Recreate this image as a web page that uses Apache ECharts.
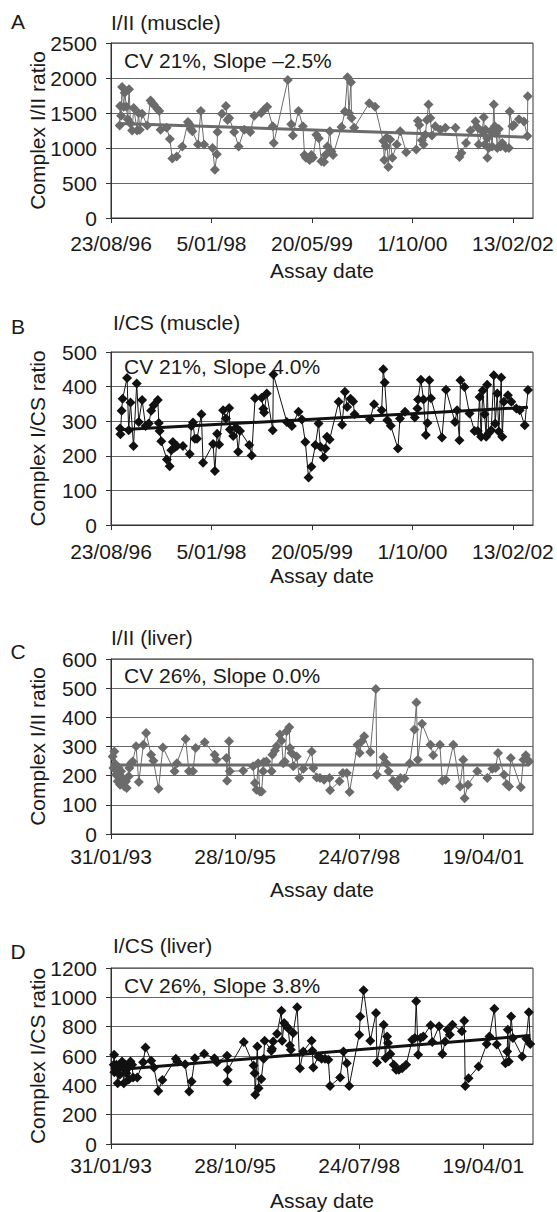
<!DOCTYPE html>
<html>
  <head>
    <meta charset="utf-8">
    <title>Complex ratios by assay date</title>
    <style media="screen">
    html, body {margin:0; padding:0; background:#fff}
    #chart {width:557px; height:1212px}
    </style>
    <script src="https://cdn.jsdelivr.net/npm/echarts/dist/echarts.min.js" charset="utf-8"></script>
    <script>
    // dates are spreadsheet day serials (days since 30/12/1899)
    const muscleTicks=[35300, 35800, 36300, 36800, 37300];
    const liverTicks=[34000, 35000, 36000, 37000];
    const axisEnd=37400;

    // A: I/II (muscle)
    const muscleIIDates=[35343,35345,35350,35355,35363,35368,35377,35383,35390,35397,35405,35413,35430,35437,35443,35455,35480,35497,35505,35513,35530,35540,35547,35577,35593,35605,35627,35655,35683,35690,35697,35705,35733,35747,35763,35805,35817,35827,35830,35852,35872,35880,35888,35913,35935,35963,35993,36013,36047,36063,36077,36105,36110,36180,36197,36205,36233,36255,36263,36270,36288,36297,36305,36322,36334,36347,36360,36367,36377,36389,36397,36405,36447,36464,36477,36484,36494,36497,36510,36585,36614,36655,36660,36667,36672,36680,36689,36700,36722,36739,36769,36819,36827,36834,36847,36855,36864,36872,36880,36889,36897,36914,36939,36964,37014,37034,37044,37067,37089,37114,37122,37130,37147,37155,37160,37164,37172,37173,37180,37189,37197,37205,37210,37217,37222,37230,37239,37247,37264,37280,37284,37297,37305,37330,37355,37372,37374];
    const muscleIIValues=[1320,1600,1460,1870,1590,1790,1590,1410,1840,1350,1250,1570,1250,1500,1260,1490,1320,1680,1640,1620,1560,1530,1260,1290,1130,850,880,1020,1370,1340,1270,1240,1050,1530,1050,1000,690,910,1230,1490,1600,1400,1430,1230,1020,1260,1230,1460,1500,1550,1590,1310,1070,1970,1340,1180,1530,1310,900,860,830,900,860,1190,1140,810,800,900,1020,1240,950,900,1300,1520,2010,1500,1940,1430,1290,1640,1590,1100,830,1030,1150,730,1120,860,1050,1240,940,980,1390,1330,1110,1050,1190,1400,1620,1430,1180,1310,1260,1290,1290,870,930,1070,1250,1380,1300,1050,1240,1440,1050,1260,1140,860,1000,1240,1020,1620,1310,1210,1000,1270,1020,1070,1000,1000,1520,1310,1330,1410,1380,1170,1740];
    const muscleIITrend=[[35343, 1350], [37374, 1155]];

    // B: I/CS (muscle)
    const muscleCSDates=[35345,35347,35353,35358,35380,35388,35397,35412,35428,35438,35455,35472,35488,35500,35512,35533,35538,35542,35550,35578,35592,35600,35608,35617,35628,35658,35692,35700,35708,35717,35728,35750,35758,35808,35817,35828,35838,35858,35872,35888,35892,35908,35922,35933,35942,35988,36000,36017,36050,36058,36062,36075,36105,36108,36175,36200,36233,36250,36267,36283,36297,36317,36333,36342,36359,36367,36375,36388,36433,36450,36464,36475,36492,36505,36512,36589,36609,36647,36655,36662,36675,36692,36728,36738,36763,36812,36825,36828,36842,36855,36867,36875,36884,36892,36947,36967,37012,37022,37034,37039,37059,37084,37109,37125,37134,37142,37150,37159,37167,37172,37179,37192,37205,37212,37222,37230,37242,37247,37255,37275,37292,37317,37334,37359,37375];
    const muscleCSValues=[279,262,330,365,425,274,354,228,409,298,361,286,293,330,346,361,295,272,242,189,170,216,240,224,228,228,205,286,296,249,249,320,180,234,156,264,233,332,308,338,276,257,282,212,272,231,201,366,368,336,325,380,274,435,298,286,327,305,240,137,168,231,293,226,195,221,255,247,356,290,385,341,365,357,320,305,349,332,450,412,303,287,221,308,327,311,337,363,420,363,260,295,418,366,253,391,298,332,245,418,399,322,272,272,370,255,389,320,255,405,265,274,433,293,380,270,426,255,356,375,356,337,332,288,390];
    const muscleCSTrend=[[35345, 275], [37375, 340]];

    // C: I/II (liver)
    const liverIIDates=[34013,34019,34027,34035,34040,34054,34062,34073,34081,34094,34108,34121,34127,34143,34148,34162,34175,34202,34224,34261,34283,34323,34342,34383,34418,34512,34531,34601,34628,34660,34682,34755,34835,34849,34930,34935,34951,34957,35065,35145,35159,35172,35186,35199,35213,35226,35232,35253,35294,35300,35321,35334,35361,35374,35388,35400,35415,35436,35442,35455,35469,35496,35517,35550,35617,35630,35657,35684,35717,35760,35765,35841,35868,35900,35922,35986,36003,36021,36040,36089,36134,36142,36196,36218,36237,36272,36291,36310,36332,36364,36407,36445,36461,36472,36506,36574,36596,36650,36669,36696,36758,36812,36838,36849,36876,36951,37032,37072,37099,37118,37167,37188,37207,37221,37302,37323,37342,37356,37369];
    const liverIIValues=[266,226,283,240,203,181,226,169,215,192,163,181,158,198,226,243,249,301,178,306,346,272,251,155,297,215,243,326,215,215,295,315,272,255,261,183,318,215,217,232,175,152,243,146,146,215,247,249,215,272,286,301,341,320,243,249,352,366,295,278,232,266,192,224,283,226,194,192,186,192,150,181,209,209,144,306,278,318,335,281,497,203,263,243,215,183,175,163,192,190,243,358,451,255,378,306,270,306,183,186,306,163,255,123,169,215,192,224,226,278,203,171,163,261,160,255,270,255,249];
    const liverIITrend=[[34013, 237], [37369, 237]];

    // D: I/CS (liver)
    const liverCSDates=[34022,34025,34027,34035,34043,34054,34062,34070,34089,34103,34110,34116,34124,34135,34143,34157,34170,34178,34211,34259,34278,34324,34346,34381,34414,34522,34535,34597,34630,34649,34676,34751,34833,34854,34935,34938,34941,35070,35149,35157,35162,35179,35189,35211,35230,35238,35292,35297,35306,35338,35373,35379,35395,35414,35427,35441,35449,35468,35500,35522,35549,35616,35622,35630,35670,35697,35724,35751,35765,35846,35873,35900,35919,36000,36008,36035,36089,36135,36143,36197,36211,36224,36232,36251,36278,36297,36319,36346,36378,36427,36448,36459,36475,36494,36516,36575,36589,36643,36670,36692,36711,36730,36751,36827,36846,36854,36881,36962,37027,37049,37089,37108,37178,37192,37197,37205,37224,37238,37313,37346,37367,37378];
    const liverCSValues=[540,608,490,517,540,415,530,472,563,415,506,540,483,517,440,563,540,453,453,558,658,567,522,362,437,581,563,544,358,426,585,615,585,558,601,426,506,695,535,483,335,665,380,444,581,704,636,649,699,752,909,704,825,802,790,672,642,756,932,517,631,704,636,522,597,581,581,574,396,453,631,551,396,745,870,1048,704,893,556,813,585,733,688,613,540,506,506,517,540,711,722,973,608,722,733,809,695,802,613,699,779,745,813,768,841,396,449,529,681,733,923,679,551,631,779,563,870,722,597,717,898,681];
    const liverCSTrend=[[34022, 505], [37378, 740]];

    const FONT='"Liberation Sans", Arial, Helvetica, sans-serif';

    function fmtSerial(s){
      let d=new Date(Date.UTC(1899, 11, 30)+s*86400000);
      return d.getUTCDate()+'/'+String(d.getUTCMonth()+1).padStart(2, '0')+'/'+String(d.getUTCFullYear()%100).padStart(2, '0');
    }

    window.onload=function (){
      let panels=[
        {letter:'A', title:'I/II (muscle)', note:'CV 21%, Slope \u20132.5%', yName:'Complex I/II ratio',
         dates:muscleIIDates, values:muscleIIValues, trend:muscleIITrend, ticks:muscleTicks,
         ymax:2500, yint:500, top:43, height:175, color:'#6b6b6b', lblMargin:15, nameGap:42,
         letterY:21, titleX:111, titleY:22, noteY:60},
        {letter:'B', title:'I/CS (muscle)', note:'CV 21%, Slope 4.0%', yName:'Complex I/CS ratio',
         dates:muscleCSDates, values:muscleCSValues, trend:muscleCSTrend, ticks:muscleTicks,
         ymax:500, yint:100, top:352, height:173, color:'#111111', lblMargin:16, nameGap:40,
         letterY:326, titleX:113, titleY:322, noteY:366},
        {letter:'C', title:'I/II (liver)', note:'CV 26%, Slope 0.0%', yName:'Complex I/II ratio',
         dates:liverIIDates, values:liverIIValues, trend:liverIITrend, ticks:liverTicks,
         ymax:600, yint:100, top:659, height:175, color:'#6b6b6b', lblMargin:12, nameGap:45,
         letterY:651, titleX:111, titleY:637, noteY:675},
        {letter:'D', title:'I/CS (liver)', note:'CV 26%, Slope 3.8%', yName:'Complex I/CS ratio',
         dates:liverCSDates, values:liverCSValues, trend:liverCSTrend, ticks:liverTicks,
         ymax:1200, yint:200, top:968, height:176, color:'#111111', lblMargin:11, nameGap:46,
         letterY:951, titleX:113, titleY:945, noteY:985}
      ];

      let grid=[], xAxis=[], yAxis=[], series=[], graphic=[];
      let txt={fontSize:21, fontFamily:FONT, color:'#1a1a1a'};

      panels.forEach((p, i)=>{
        grid.push({left:111, width:422, top:p.top, height:p.height, show:true,
          borderColor:'#333', borderWidth:1, backgroundColor:'transparent'});

        xAxis.push({
          type:'value', gridIndex:i, min:p.ticks[0], max:axisEnd,
          axisLine:{show:true, onZero:false, lineStyle:{color:'#333', width:1}},
          axisTick:{show:true, length:5, customValues:p.ticks, lineStyle:{color:'#333'}},
          axisLabel:Object.assign({customValues:p.ticks, formatter:fmtSerial, margin:p.lblMargin}, txt),
          splitLine:{show:false},
          name:'Assay date', nameLocation:'middle', nameGap:p.nameGap, nameTextStyle:txt,
          nameMoveOverlap:false
        });

        yAxis.push({
          type:'value', gridIndex:i, min:0, max:p.ymax, interval:p.yint,
          axisLine:{show:true, lineStyle:{color:'#333', width:1}},
          axisTick:{show:true, length:5, lineStyle:{color:'#333'}},
          axisLabel:Object.assign({margin:14, formatter:v=>String(v)}, txt),
          splitLine:{show:true, lineStyle:{color:'#666', width:1}},
          name:p.yName, nameLocation:'middle', nameGap:63, nameTextStyle:txt,
          nameMoveOverlap:false
        });

        series.push({
          type:'line', xAxisIndex:i, yAxisIndex:i,
          data:p.dates.map((d, k)=>[d, p.values[k]]),
          symbol:'diamond', symbolSize:10, showSymbol:true,
          lineStyle:{color:p.color, width:1},
          itemStyle:{color:p.color},
          z:2
        });
        series.push({
          type:'line', xAxisIndex:i, yAxisIndex:i,
          data:p.trend, symbol:'none', silent:true,
          lineStyle:{color:p.color, width:3},
          z:3
        });

        graphic.push({type:'text', x:18, y:p.letterY, z:10,
          style:{text:p.letter, font:'21px '+FONT, fill:'#1a1a1a', align:'center', verticalAlign:'middle'}});
        graphic.push({type:'text', x:p.titleX, y:p.titleY, z:10,
          style:{text:p.title, font:'21px '+FONT, fill:'#1a1a1a', align:'left', verticalAlign:'middle'}});
        graphic.push({type:'text', x:124, y:p.noteY, z:10,
          style:{text:p.note, font:'21px '+FONT, fill:'#1a1a1a', align:'left', verticalAlign:'middle'}});
      });

      let chart=echarts.init(document.getElementById('chart'), null, {renderer:'svg'});
      chart.setOption({
        animation:false,
        backgroundColor:'#fff',
        grid:grid, xAxis:xAxis, yAxis:yAxis, series:series, graphic:graphic
      });
    };
    </script>
  </head>
  <body>
    <div id="chart"></div>
  </body>
</html>
